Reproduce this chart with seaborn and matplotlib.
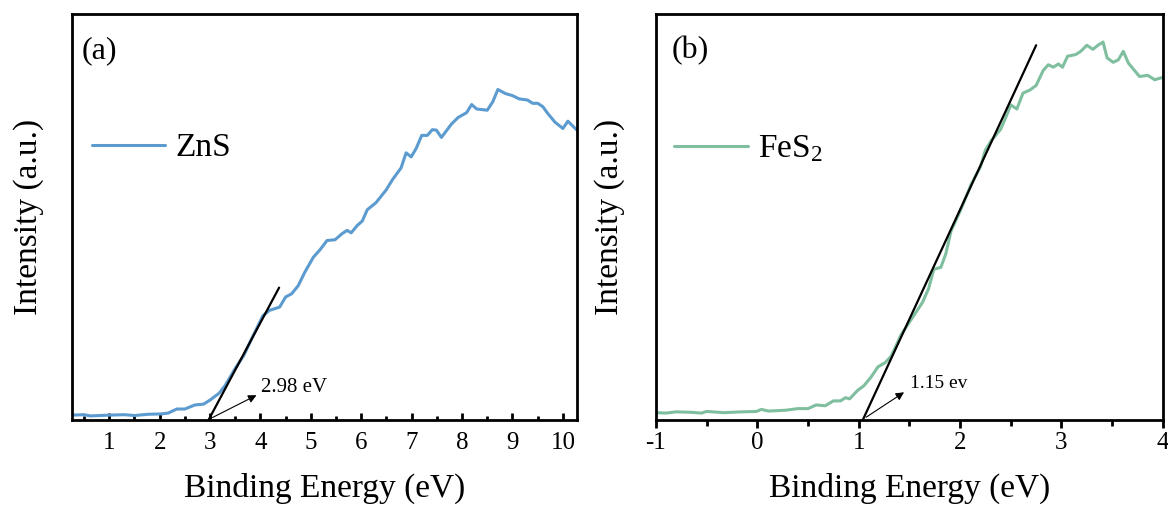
import numpy as np
import pandas as pd
import matplotlib
matplotlib.use("Agg")
import matplotlib.pyplot as plt
import seaborn as sns

# ZnS valence band spectrum
zns_energy = [0.26, 0.5, 0.63, 1.0, 1.3, 1.5, 1.77, 2.04, 2.17, 2.34, 2.5, 2.7, 2.87, 3.0,
              3.18, 3.3, 3.5, 3.67, 3.84, 4.05, 4.18, 4.38, 4.5, 4.62, 4.75, 4.88, 5.05,
              5.18, 5.32, 5.48, 5.62, 5.72, 5.8, 5.92, 6.02, 6.12, 6.29, 6.49, 6.62, 6.79,
              6.89, 6.99, 7.09, 7.2, 7.31, 7.41, 7.49, 7.59, 7.79, 7.92, 8.09, 8.19, 8.29,
              8.5, 8.61, 8.71, 8.86, 9.0, 9.13, 9.3, 9.4, 9.5, 9.6, 9.7, 9.84, 10.0, 10.1,
              10.27]
zns_intensity = [1.2, 1.3, 1.0, 1.2, 1.3, 1.1, 1.4, 1.5, 1.7, 2.7, 2.7, 3.7, 3.9, 4.9,
                 6.6, 8.5, 12.7, 15.9, 20.4, 25.7, 27.0, 27.8, 30.3, 31.1, 33.1, 36.4, 40.1,
                 41.9, 44.2, 44.4, 45.9, 46.7, 46.1, 47.9, 49.0, 51.8, 53.5, 56.6, 59.2, 62.1,
                 65.8, 64.8, 66.9, 70.1, 70.1, 71.5, 71.4, 69.6, 72.9, 74.5, 75.7, 77.7, 76.6,
                 76.3, 78.4, 81.4, 80.4, 79.9, 79.1, 78.8, 78.0, 78.0, 77.2, 75.5, 73.4, 71.8,
                 73.6, 71.5]

# FeS2 valence band spectrum
fes2_energy = [-1.0, -0.9, -0.8, -0.66, -0.55, -0.5, -0.33, -0.16, -0.01, 0.04, 0.11, 0.28,
               0.4, 0.5, 0.58, 0.67, 0.75, 0.82, 0.87, 0.91, 0.99, 1.05, 1.12, 1.19, 1.26,
               1.32, 1.42, 1.53, 1.63, 1.69, 1.74, 1.81, 1.86, 1.91, 2.01, 2.11, 2.2, 2.25,
               2.31, 2.4, 2.45, 2.5, 2.56, 2.62, 2.69, 2.75, 2.82, 2.87, 2.92, 2.97, 3.01,
               3.06, 3.14, 3.19, 3.25, 3.31, 3.36, 3.41, 3.45, 3.51, 3.56, 3.61, 3.66, 3.77,
               3.85, 3.92, 4.0]
fes2_intensity = [1.8, 1.7, 2.0, 1.9, 1.7, 2.1, 1.8, 2.0, 2.1, 2.6, 2.2, 2.4, 2.8, 2.8, 3.7,
                  3.5, 4.7, 4.7, 5.5, 5.2, 7.3, 8.4, 10.5, 13.1, 14.1, 15.7, 21.1, 25.2, 29.0,
                  32.4, 37.1, 37.6, 41.0, 46.5, 52.0, 58.1, 62.3, 66.5, 68.9, 71.6, 74.5, 77.6,
                  76.6, 80.5, 81.3, 82.4, 86.1, 87.5, 86.9, 87.7, 86.9, 89.6, 90.0, 90.8, 92.3,
                  91.3, 92.3, 93.1, 89.2, 88.1, 88.7, 90.8, 87.9, 84.6, 84.9, 83.8, 84.4]

# linear extrapolation lines and band edge markers
zns_fit_x = [2.97, 4.37]
zns_fit_y = [0.0, 32.6]
fes2_fit_x = [1.04, 2.75]
fes2_fit_y = [0.0, 92.3]
zns_arrow = [(3.0, 0.3), (3.97, 6.4)]
fes2_arrow = [(1.05, 0.3), (1.47, 7.2)]
zns_edge_label = "2.98 eV"
fes2_edge_label = "1.15 ev"

zns = pd.DataFrame({"energy": zns_energy, "intensity": zns_intensity})
fes2 = pd.DataFrame({"energy": fes2_energy, "intensity": fes2_intensity})

sns.set_style("ticks")
plt.rcParams["font.family"] = ["Liberation Serif", "DejaVu Serif"]
plt.rcParams["mathtext.default"] = "regular"
plt.rcParams["axes.unicode_minus"] = False
plt.rcParams["axes.linewidth"] = 2.0
for key in ["text.color", "axes.labelcolor", "xtick.color", "ytick.color", "axes.edgecolor"]:
    plt.rcParams[key] = "black"

fig = plt.figure(figsize=(11.68, 5.09), dpi=100)
ax1 = fig.add_axes([0.0616, 0.1749, 0.4324, 0.7976])
ax2 = fig.add_axes([0.5616, 0.1749, 0.4340, 0.7976])

# (a) ZnS
sns.lineplot(data=zns, x="energy", y="intensity", ax=ax1, color="#5b9bd0", lw=2.2, label="ZnS")
ax1.plot(zns_fit_x, zns_fit_y, color="black", lw=1.6)
ax1.annotate("", xy=zns_arrow[1], xytext=zns_arrow[0],
             arrowprops=dict(arrowstyle="-|>", color="black", lw=0.8, mutation_scale=12))
ax1.text(zns_arrow[1][0] + 0.05, zns_arrow[1][1] + 1.5, zns_edge_label, fontsize=15, va="center")
ax1.set_xlim(0.26, 10.28)
ax1.set_xticks(range(1, 11))
ax1.set_xticks(np.arange(0.5, 10.3, 0.5), minor=True)
ax1.tick_params(axis="x", which="major", direction="in", length=5, width=2, labelsize=18, pad=9)
ax1.tick_params(axis="x", which="minor", direction="in", length=3, width=2)
ax1.text(0.02, 0.91, "(a)", transform=ax1.transAxes, fontsize=23, va="center")

# (b) FeS2
sns.lineplot(data=fes2, x="energy", y="intensity", ax=ax2, color="#7fbf9f", lw=2.2, label="FeS$_2$")
ax2.plot(fes2_fit_x, fes2_fit_y, color="black", lw=1.6)
ax2.annotate("", xy=fes2_arrow[1], xytext=fes2_arrow[0],
             arrowprops=dict(arrowstyle="-|>", color="black", lw=0.8, mutation_scale=12))
ax2.text(fes2_arrow[1][0] + 0.04, fes2_arrow[1][1] + 1.8, fes2_edge_label, fontsize=14, va="center")
ax2.set_xlim(-1, 4)
ax2.set_xticks(range(-1, 5))
ax2.set_xticks(np.arange(-0.5, 4, 0.5), minor=True)
ax2.tick_params(axis="x", which="major", direction="out", length=6, width=2, labelsize=18, pad=3)
ax2.tick_params(axis="x", which="minor", direction="out", length=4, width=2)
ax2.text(0.03, 0.91, "(b)", transform=ax2.transAxes, fontsize=23, va="center")

for ax, lx, ly, ypad in [(ax1, 0.04, 0.67, 20), (ax2, 0.036, 0.667, 22)]:
    ax.set_ylim(0, 100)
    ax.set_yticks([])
    ax.set_xlabel("Binding Energy (eV)", fontsize=24, labelpad=13)
    ax.set_ylabel("Intensity (a.u.)", fontsize=24, labelpad=ypad)
    for s in ax.spines.values():
        s.set_visible(True)
        s.set_color("black")
    ax.legend(loc="center left", bbox_to_anchor=(lx, ly), frameon=False, fontsize=24,
              handlelength=2.2, handletextpad=0.3, borderpad=0, borderaxespad=0)

fig.savefig("out.png", dpi=100)
